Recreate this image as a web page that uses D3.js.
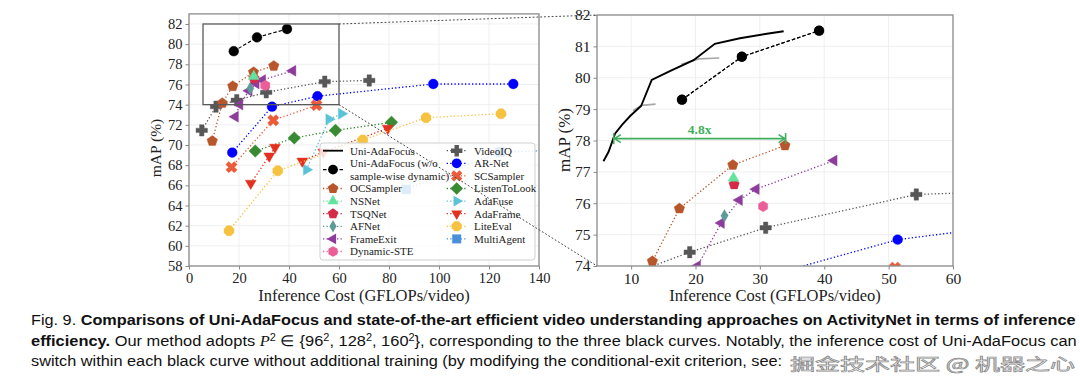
<!DOCTYPE html>
<html><head><meta charset="utf-8">
<script src="https://cdn.jsdelivr.net/npm/d3@7"></script>
<style>body{margin:0;background:#fff}svg{display:block}</style>
</head><body>
<svg id="c" width="1080" height="382"></svg>
<script>
// ---------------- data ----------------
const uniCurve     = [[5.7,77.34],[6.5,77.64],[7.5,78.22],[8.55,78.49],[9.85,78.78],[11.55,79.1],[13.2,79.93],[16.1,80.22],[19.7,80.56],[23.0,81.08],[26.9,81.26],[31.6,81.42],[33.7,81.48]];
const uniCurve96   = [[10.3,78.95],[11.6,79.12],[13.8,79.16]];
const uniCurve128  = [[17.8,80.43],[20.5,80.6],[23.7,80.63]];
const uniNoDyn     = [[17.9,79.3],[27.2,80.67],[39.2,81.5]];
const ocSampler    = [[9.3,70.4],[13.3,74.15],[17.5,75.83],[25.8,77.22],[33.9,77.84]];
const nsNet        = [[25.9,76.8]];
const tsqNet       = [[26.0,76.6]];
const afNet        = [[24.5,75.6]];
const frameExit    = [[18.5,72.8],[20.3,74.0],[24.0,75.37],[26.8,76.1],[29.4,76.45],[41.5,77.36]];
const dynamicSTE   = [[30.5,75.9]];
const videoIQ      = [[5.1,71.45],[10.8,73.8],[19.1,74.44],[30.9,75.22],[54.3,76.28],[72.1,76.4]];
const arNet        = [[17.3,69.25],[33.2,73.8],[51.4,74.84],[97.7,76.05],[129.7,76.05]];
const scSampler    = [[17.0,67.8],[33.7,72.45],[51.0,73.95]];
const listenToLook = [[26.5,69.4],[42.1,70.7],[58.6,71.45],[81.0,72.25]];
const adaFuse      = [[47.0,67.55],[56.0,72.55],[61.0,73.1]];
const adaFrameA    = [[24.7,66.2],[32.1,68.9],[34.4,69.77]];
const adaFrameB    = [[45.3,68.4],[53.7,69.3],[79.5,71.65]];
const liteEval     = [[16.0,61.5],[35.5,67.45],[69.5,70.5],[94.8,72.7],[124.8,73.1]];
const multiAgent   = [[86.9,65.6],[124.4,69.3],[145,69.45]];

const leftXTicks  = [0,20,40,60,80,100,120,140];
const leftYTicks  = [58,60,62,64,66,68,70,72,74,76,78,80,82];
const rightXTicks = [10,20,30,40,50,60];
const rightYTicks = [74,75,76,77,78,79,80,81,82];
const zoomBox     = [[5.6,74],[60,82]];
const speedup     = [[7.3,78.06],[34.0,78.06]];
const speedupLabel = "4.8x";

const legendCol1 = ["Uni-AdaFocus","Uni-AdaFocus (w/o|sample-wise dynamic)","OCSampler","NSNet","TSQNet","AFNet","FrameExit","Dynamic-STE"];
const legendCol2 = ["VideoIQ","AR-Net","SCSampler","ListenToLook","AdaFuse","AdaFrame","LiteEval","MultiAgent"];

// ---------------- styles ----------------
const S = {
  "Uni-AdaFocus (w/o|sample-wise dynamic)": {data:[uniNoDyn], color:"#000", shape:"o", dash:"3.5,2"},
  "OCSampler":   {data:[ocSampler], color:"#b8562b", shape:"p"},
  "NSNet":       {data:[nsNet], color:"#63e39c", shape:"^"},
  "TSQNet":      {data:[tsqNet], color:"#d42c48", shape:"p"},
  "AFNet":       {data:[afNet], color:"#5e9a97", shape:"d"},
  "FrameExit":   {data:[frameExit], color:"#8e3c9c", shape:"<"},
  "Dynamic-STE": {data:[dynamicSTE], color:"#ea5f98", shape:"h"},
  "VideoIQ":     {data:[videoIQ], color:"#575757", shape:"P"},
  "AR-Net":      {data:[arNet], color:"#0000ff", shape:"o"},
  "SCSampler":   {data:[scSampler], color:"#ea5b3a", shape:"X"},
  "ListenToLook":{data:[listenToLook], color:"#3a8a33", shape:"D"},
  "AdaFuse":     {data:[adaFuse], color:"#5cc2d8", shape:">"},
  "AdaFrame":    {data:[adaFrameA, adaFrameB], color:"#e3301f", shape:"v"},
  "LiteEval":    {data:[liteEval], color:"#f5c33f", shape:"8"},
  "MultiAgent":  {data:[multiAgent], color:"#4a8fda", shape:"s"}
};
const drawOrder = ["VideoIQ","AR-Net","SCSampler","ListenToLook","AdaFuse","AdaFrame","LiteEval","MultiAgent",
  "OCSampler","FrameExit","AFNet","TSQNet","NSNet","Dynamic-STE","Uni-AdaFocus (w/o|sample-wise dynamic)"];

function poly(n, r, rot){
  const p=[]; for(let i=0;i<n;i++){const a=rot+i*2*Math.PI/n; p.push([r*Math.sin(a), -r*Math.cos(a)]);}
  return "M"+p.map(d=>d[0].toFixed(2)+","+d[1].toFixed(2)).join("L")+"Z";
}
function cross(r,w){
  const q=[[-w,-r],[w,-r],[w,-w],[r,-w],[r,w],[w,w],[w,r],[-w,r],[-w,w],[-r,w],[-r,-w],[-w,-w]];
  return "M"+q.map(d=>d.join(",")).join("L")+"Z";
}
function shapePath(s){
  switch(s){
    case "o": return d3.symbol(d3.symbolCircle, Math.PI*4.9*4.9)();
    case "p": return poly(5,5.5,0);
    case "h": return poly(6,5.3,0);
    case "8": return poly(8,5.4,Math.PI/8);
    case "^": return poly(3,6.3,0);
    case "v": return poly(3,6.3,Math.PI);
    case "<": return poly(3,6.3,-Math.PI/2);
    case ">": return poly(3,6.3,Math.PI/2);
    case "D": return poly(4,6.3,0);
    case "d": return "M0,-6.3L3.6,0L0,6.3L-3.6,0Z";
    case "P": return cross(5.7,2.2);
    case "X": return cross(5.9,2.1);
    case "s": return "M-4.5,-4.5H4.5V4.5H-4.5Z";
  }
}
function markerRot(s){ return s==="X" ? "rotate(45)" : ""; }

const svg = d3.select("#c");
const serif = "'Liberation Serif','DejaVu Serif',serif";

// ---------------- panel builder ----------------
function panel(id, x, y, xt, yt, opts){
  const [x0,x1]=x.range(), [y0,y1]=y.range();
  const g = svg.append("g");
  g.append("clipPath").attr("id",id).append("rect").attr("x",x0).attr("y",y1).attr("width",x1-x0).attr("height",y0-y1);
  g.append("g").selectAll("line").data(xt).join("line")
    .attr("x1",d=>x(d)).attr("x2",d=>x(d)).attr("y1",y0).attr("y2",y1).attr("stroke","#ebebeb").attr("stroke-width",0.8);
  g.append("g").selectAll("line").data(yt).join("line")
    .attr("y1",d=>y(d)).attr("y2",d=>y(d)).attr("x1",x0).attr("x2",x1).attr("stroke","#ebebeb").attr("stroke-width",0.8);
  const ax = g.append("g").attr("transform",`translate(0,${y0})`).call(d3.axisBottom(x).tickValues(xt).tickSize(3.5).tickPadding(3).tickFormat(d3.format("d")));
  const ay = g.append("g").attr("transform",`translate(${x0},0)`).call(d3.axisLeft(y).tickValues(yt).tickSize(3.5).tickPadding(3).tickFormat(d3.format("d")));
  [ax,ay].forEach(a=>{a.select(".domain").remove(); a.selectAll("line").attr("stroke","#888");
    a.selectAll("text").attr("font-family",serif).attr("font-size",opts.tick).attr("fill","#222");});
  g.append("text").attr("x",(x0+x1)/2).attr("y",opts.xlabY).attr("text-anchor","middle")
    .attr("font-family",serif).attr("font-size",opts.lab).attr("fill","#222").text("Inference Cost (GFLOPs/video)");
  g.append("text").attr("transform",`translate(${opts.ylabX},${opts.ylabCY}) rotate(-90)`).attr("text-anchor","middle")
    .attr("dominant-baseline","middle").attr("font-family",serif).attr("font-size",opts.ylab).attr("fill","#222").text("mAP (%)");
  const plot = g.append("g").attr("clip-path",`url(#${id})`);
  const line = d3.line().x(d=>x(d[0])).y(d=>y(d[1]));
  drawOrder.forEach(name=>{
    const st = S[name];
    st.data.forEach(arr=>{
      if(arr.length>1) plot.append("path").attr("d",line(arr)).attr("fill","none").attr("stroke",st.color)
        .attr("stroke-width",st.dash?1.1:1.3).attr("stroke-dasharray",st.dash||"1.3,2.2");
    });
    st.data.forEach(arr=>{
      plot.selectAll(null).data(arr).join("path").attr("d",shapePath(st.shape))
        .attr("transform",d=>`translate(${x(d[0])},${y(d[1])}) ${markerRot(st.shape)}`)
        .attr("fill",st.color).attr("stroke",st.color).attr("stroke-width",0.4);
    });
  });
  g.append("rect").attr("x",x0).attr("y",y1).attr("width",x1-x0).attr("height",y0-y1)
    .attr("fill","none").attr("stroke","#8c8c8c").attr("stroke-width",1.3);
  return {g, plot, line};
}

// ---------------- left panel ----------------
const xL = d3.scaleLinear().domain([0,140]).range([189,539]);
const yL = d3.scaleLinear().domain([58,83]).range([266,13.9]);
const L = panel("clipL", xL, yL, leftXTicks, leftYTicks, {tick:14.5, lab:16.5, ylab:15.5, xlabY:301, ylabX:157, ylabCY:148});

L.g.append("rect").attr("x",xL(zoomBox[0][0])).attr("y",yL(zoomBox[1][1]))
  .attr("width",xL(zoomBox[1][0])-xL(zoomBox[0][0])).attr("height",yL(zoomBox[0][1])-yL(zoomBox[1][1]))
  .attr("fill","none").attr("stroke","#5a5a5a").attr("stroke-width",1.3);

// legend
const leg = L.g.append("g");
leg.append("rect").attr("x",320).attr("y",143).attr("width",215).attr("height",117).attr("rx",3)
  .attr("fill","#fff").attr("fill-opacity",0.82).attr("stroke","#cfcfcf").attr("stroke-width",1);
function legendItem(name, hx, tx, yy){
  const gi = leg.append("g");
  if(name==="Uni-AdaFocus"){
    gi.append("line").attr("x1",hx-10).attr("x2",hx+10).attr("y1",yy).attr("y2",yy).attr("stroke","#000").attr("stroke-width",1.8);
  } else {
    const st=S[name];
    gi.append("line").attr("x1",hx-10).attr("x2",hx+10).attr("y1",yy).attr("y2",yy).attr("stroke",st.color)
      .attr("stroke-width",st.dash?1.1:1.3).attr("stroke-dasharray",st.dash||"1.3,2.2");
    gi.append("path").attr("d",shapePath(st.shape)).attr("transform",`translate(${hx},${yy}) ${markerRot(st.shape)}`).attr("fill",st.color);
  }
  const parts = name.split("|");
  const t = gi.append("text").attr("font-family",serif).attr("font-size",11).attr("fill","#222");
  parts.forEach((p,i)=>t.append("tspan").attr("x",tx).attr("y",yy+3.8+(parts.length>1?(i-0.5)*12.4:0)).text(p));
}
const rowH = 12.6, row0 = 150.7;
let r=0;
legendCol1.forEach(n=>{
  const multi = n.includes("|");
  const yy = multi ? row0 + (r+0.5)*rowH : row0 + r*rowH;
  legendItem(n, 333, 350, yy);
  r += multi ? 2 : 1;
});
legendCol2.forEach((n,i)=>legendItem(n, 456.7, 474, row0 + i*rowH));

// ---------------- right panel ----------------
const xR = d3.scaleLinear().domain([4.7,60]).range([597,953]);
const yR = d3.scaleLinear().domain([74,82]).range([266,15]);
const R = panel("clipR", xR, yR, rightXTicks, rightYTicks, {tick:15.5, lab:16.5, ylab:17, xlabY:301, ylabX:566, ylabCY:140});
const RL = d3.line().x(d=>xR(d[0])).y(d=>yR(d[1]));
R.plot.append("path").attr("d",RL(uniCurve96)).attr("fill","none").attr("stroke","#a8a8a8").attr("stroke-width",1.7);
R.plot.append("path").attr("d",RL(uniCurve128)).attr("fill","none").attr("stroke","#a8a8a8").attr("stroke-width",1.7);
R.plot.append("path").attr("d",RL(uniCurve)).attr("fill","none").attr("stroke","#000").attr("stroke-width",1.9);
R.plot.append("path").attr("d",RL(uniNoDyn)).attr("fill","none").attr("stroke","#000").attr("stroke-width",1.1).attr("stroke-dasharray","3.5,2");
R.plot.selectAll(null).data(uniNoDyn).join("path").attr("d",shapePath("o")).attr("transform",d=>`translate(${xR(d[0])},${yR(d[1])})`).attr("fill","#000");

// speed-up arrow
const green = "#3fae5c";
const ax0 = xR(speedup[0][0]), ax1 = xR(speedup[1][0]), ay = yR(speedup[0][1]);
const ar = R.g.append("g").attr("stroke",green).attr("stroke-width",1.6).attr("fill","none");
ar.append("line").attr("x1",ax0).attr("x2",ax1).attr("y1",ay).attr("y2",ay);
ar.append("line").attr("x1",ax0).attr("x2",ax0).attr("y1",ay-5.5).attr("y2",ay+5.5);
ar.append("line").attr("x1",ax1).attr("x2",ax1).attr("y1",ay-5.5).attr("y2",ay+5.5);
ar.append("path").attr("d",`M${ax0+7},${ay-4}L${ax0+1},${ay}L${ax0+7},${ay+4}`);
ar.append("path").attr("d",`M${ax1-7},${ay-4}L${ax1-1},${ay}L${ax1-7},${ay+4}`);
R.g.append("text").attr("x",(ax0+ax1)/2).attr("y",ay-5).attr("text-anchor","middle").attr("font-family",serif)
  .attr("font-weight","bold").attr("font-size",13.5).attr("fill",green).text(speedupLabel);

// connector lines
const conn = svg.append("g").attr("stroke","#444").attr("stroke-width",1).attr("stroke-dasharray","1.8,2");
conn.append("line").attr("x1",xL(zoomBox[1][0])).attr("y1",yL(zoomBox[1][1])).attr("x2",xR.range()[0]).attr("y2",yR(82));
conn.append("line").attr("x1",xL(zoomBox[1][0])).attr("y1",yL(zoomBox[0][1])).attr("x2",xR.range()[0]).attr("y2",yR(74));

// ---------------- caption ----------------
const sans = "'Liberation Sans','Arial',sans-serif";
const cap = svg.append("g").attr("font-family",sans).attr("font-size",15).attr("fill","#111");
function capLine(y, parts){
  const t = cap.append("text").attr("x",0).attr("y",y);
  parts.forEach(p=>{const s=t.append("tspan").text(p[0]); if(p[1]==="b") s.attr("font-weight","bold"); if(p[1]==="i") s.attr("font-style","italic").attr("font-family","'Liberation Serif',serif"); if(p[1]==="sup") s.attr("font-size",10).attr("dy",-5); if(p[1]==="un") s.attr("dy",5);});
  return t;
}
function fit(t, x0, x1){ const w=t.node().getComputedTextLength(); t.attr("transform",`translate(${x0},0) scale(${(x1-x0)/w},1)`); }
const l1 = capLine(325,[["Fig. 9. "],["Comparisons of Uni-AdaFocus and state-of-the-art efficient video understanding approaches on ActivityNet in terms of inference","b"]]);
const l2 = capLine(346,[["efficiency.","b"],[" Our method adopts "],["P","i"],["2","sup"],[" ∈ {96","un"],["2","sup"],[", 128","un"],["2","sup"],[", 160","un"],["2","sup"],["}, corresponding to the three black curves. Notably, the inference cost of Uni-AdaFocus can","un"]]);
const l3 = capLine(366,[["switch within each black curve without additional training (by modifying the conditional-exit criterion, see:"]]);
fit(l1,31,1077); fit(l2,31,1077); fit(l3,31,783);
// watermark
svg.append("text").attr("x",790).attr("y",370).attr("font-family","'Noto Sans CJK SC',sans-serif").attr("font-size",16)
  .attr("fill","#fff").attr("fill-opacity",0.9).attr("stroke","#8a8a8a").attr("stroke-width",0.7)
  .attr("textLength",285).attr("lengthAdjust","spacingAndGlyphs").text("掘金技术社区 @ 机器之心");
</script>
</body></html>
